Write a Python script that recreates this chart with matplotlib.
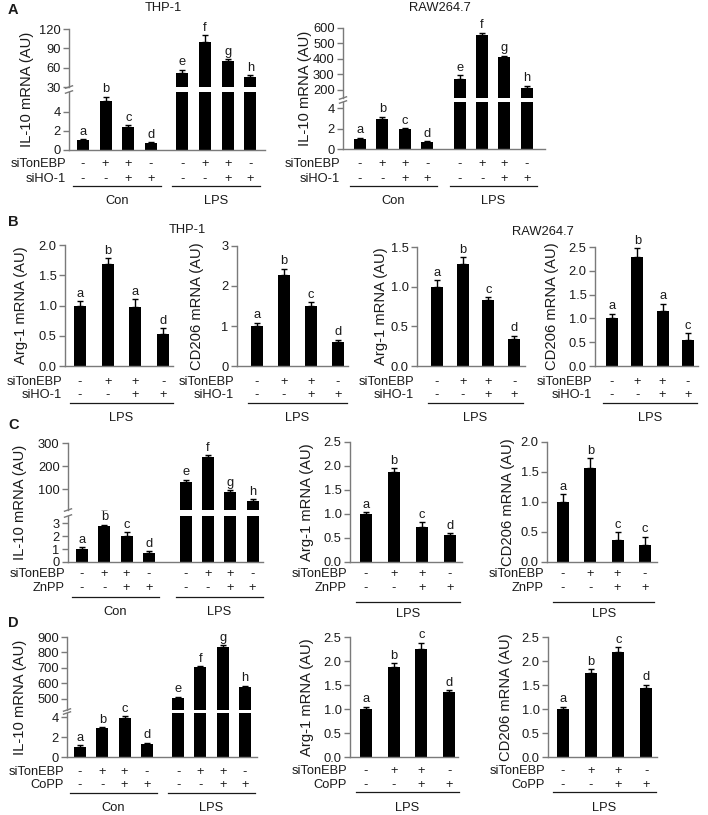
import numpy as np
import matplotlib.pyplot as plt
import matplotlib.transforms as mtransforms
from matplotlib.ticker import FormatStrFormatter

plt.rcParams['font.family'] = ['Liberation Sans', 'DejaVu Sans']

# values
si_tonebp = ['-', '+', '+', '-']
inhib = ['-', '-', '+', '+']
groups = ['Con', 'LPS']
il10_letters = list('abcdefgh')

# A: IL-10, Con (4) then LPS (4)
a_thp_il10 = [1.0, 5.2, 2.4, 0.7, 52, 100, 70, 46]
a_thp_il10_err = [0.15, 0.4, 0.2, 0.15, 5, 10, 3, 2]
a_raw_il10 = [1.0, 2.95, 1.95, 0.7, 272, 555, 413, 213]
a_raw_il10_err = [0.1, 0.2, 0.1, 0.08, 22, 15, 8, 15]

# B: LPS only
b_thp_arg = [1.0, 1.68, 0.98, 0.53]
b_thp_arg_err = [0.07, 0.1, 0.12, 0.09]
b_thp_arg_let = ['a', 'b', 'a', 'd']
b_thp_cd206 = [1.0, 2.28, 1.5, 0.6]
b_thp_cd206_err = [0.08, 0.15, 0.1, 0.06]
b_thp_cd206_let = ['a', 'b', 'c', 'd']
b_raw_arg = [1.0, 1.29, 0.83, 0.34]
b_raw_arg_err = [0.08, 0.08, 0.04, 0.04]
b_raw_arg_let = ['a', 'b', 'c', 'd']
b_raw_cd206 = [1.0, 2.3, 1.15, 0.55]
b_raw_cd206_err = [0.1, 0.18, 0.16, 0.14]
b_raw_cd206_let = ['a', 'b', 'a', 'c']

# C: ZnPP
c_il10 = [1.0, 2.75, 2.0, 0.7, 130, 240, 87, 50]
c_il10_err = [0.15, 0.12, 0.28, 0.12, 10, 8, 8, 5]
c_arg = [1.0, 1.88, 0.73, 0.57]
c_arg_err = [0.04, 0.07, 0.1, 0.03]
c_arg_let = ['a', 'b', 'c', 'd']
c_cd206 = [1.0, 1.57, 0.37, 0.29]
c_cd206_err = [0.13, 0.16, 0.13, 0.13]
c_cd206_let = ['a', 'b', 'c', 'c']

# D: CoPP
d_il10 = [1.0, 2.9, 3.9, 1.35, 505, 707, 838, 575]
d_il10_err = [0.2, 0.1, 0.2, 0.1, 10, 5, 10, 10]
d_arg = [1.0, 1.87, 2.25, 1.35]
d_arg_err = [0.05, 0.08, 0.13, 0.04]
d_arg_let = ['a', 'b', 'c', 'd']
d_cd206 = [1.0, 1.75, 2.19, 1.43]
d_cd206_err = [0.05, 0.08, 0.1, 0.08]
d_cd206_let = ['a', 'b', 'c', 'd']

W, H = 708, 815
fig = plt.figure(figsize=(W / 100, H / 100), dpi=100)
GRAY = '#7a7a7a'
INK = '#1a1a1a'
FS = 9.3
FL = 10.6


def fy(y):
    return 1 - y / H


def add_ax(xl, yt, xr, yb):
    ax = fig.add_axes([xl / W, fy(yb), (xr - xl) / W, (yb - yt) / H])
    ax.patch.set_alpha(0)
    for s in ['top', 'right']:
        ax.spines[s].set_visible(False)
    for s in ['left', 'bottom']:
        ax.spines[s].set_color(GRAY)
        ax.spines[s].set_linewidth(1)
    ax.tick_params(axis='y', direction='out', length=4, width=1, color=GRAY,
                   labelsize=FS, labelcolor=INK, pad=2)
    ax.tick_params(axis='x', length=0, labelbottom=False)
    return ax


def bars(ax, xs, vals, errs, bw):
    ax.bar(xs, vals, width=bw, color='black', zorder=2)
    ax.errorbar(xs, vals, yerr=[np.zeros(len(vals)), errs], fmt='none',
                ecolor='black', elinewidth=1, capsize=2.5, capthick=1, zorder=3)


def letter(ax, x, top, s):
    ax.annotate(s, (x, top), xytext=(0, 1), textcoords='offset points',
                ha='center', va='bottom', fontsize=FS, color=INK)


def table(ax, xs, xl, names, rows, rows_y, line_y, labels, label_y, pad):
    tr = mtransforms.blended_transform_factory(ax.transData, fig.transFigure)
    for name, signs, y in zip(names, rows, rows_y):
        fig.text((xl - 3) / W, fy(y), name, ha='right', va='center', fontsize=FS, color=INK)
        for x, s in zip(xs, signs):
            ax.text(x, fy(y), s, transform=tr, ha='center', va='center', fontsize=FS, color=INK)
    for g, lab in enumerate(labels):
        gx = xs[4 * g:4 * g + 4]
        ax.plot([gx[0] - pad, gx[-1] + pad], [fy(line_y)] * 2, transform=tr,
                color=INK, lw=0.9, clip_on=False)
        ax.text((gx[0] + gx[-1]) / 2, fy(label_y), lab, transform=tr,
                ha='center', va='center', fontsize=FS, color=INK)


def simple_panel(box, first, sp, vals, errs, lets, ymax, step, fmt, ylabel, label_x,
                 row2, rows_y, line_y, label_y):
    xl, yt, xr, yb = box
    ax = add_ax(xl, yt, xr, yb)
    xs = np.arange(len(vals))
    bars(ax, xs, vals, errs, 12 / sp)
    ax.set_xlim((xl - first) / sp, (xr - first) / sp)
    ax.set_ylim(0, ymax)
    ax.set_yticks(np.arange(0, ymax + step / 2, step))
    ax.yaxis.set_major_formatter(FormatStrFormatter(fmt))
    for x, v, e, s in zip(xs, vals, errs, lets):
        letter(ax, x, v + e, s)
    fig.text(label_x / W, fy((yt + yb) / 2), ylabel, rotation=90, ha='center',
             va='center', fontsize=FL, color=INK)
    table(ax, xs, xl, ['siTonEBP', row2], [si_tonebp, inhib], rows_y, line_y,
          ['LPS'], label_y, 0.35)
    return ax


def broken_panel(xl, xr, first, sp, gap, up, lo, vals, errs, label_x,
                 row2, rows_y, line_y, label_y):
    xs = np.r_[np.arange(4), gap + np.arange(4)]
    ax_u = add_ax(xl, up[0], xr, up[1])
    ax_l = add_ax(xl, lo[0], xr, lo[1])
    ax_u.spines['bottom'].set_visible(False)
    for ax, (t, b, y0, y1, ticks) in ((ax_u, up), (ax_l, lo)):
        bars(ax, xs, vals, errs, 12 / sp)
        ax.set_xlim((xl - first) / sp, (xr - first) / sp)
        ax.set_ylim(y0, y1)
        ax.set_yticks(ticks)
    for x, v, e, s in zip(xs, vals, errs, il10_letters):
        letter(ax_l if v < lo[3] else ax_u, x, v + e, s)
    # axis break marks
    w = xr - xl
    for ax, y, h in ((ax_u, 0, up[1] - up[0]), (ax_l, 1, lo[1] - lo[0])):
        dx, dy = 3.5 / w, 1.2 / h
        ax.plot([-dx, dx], [y - dy, y + dy], transform=ax.transAxes,
                color=GRAY, lw=1, clip_on=False)
    fig.text(label_x / W, fy((up[0] + lo[1]) / 2), 'IL-10 mRNA (AU)', rotation=90,
             ha='center', va='center', fontsize=FL, color=INK)
    table(ax_l, xs, xl, ['siTonEBP', row2], [si_tonebp * 2, inhib * 2], rows_y,
          line_y, groups, label_y, 0.45)


# ---- A
broken_panel(69, 265, 83, 22.6, 4.4, (29, 87, 30, 120, [30, 60, 90, 120]),
             (92, 150, 0, 6.1, [0, 2, 4]), a_thp_il10, a_thp_il10_err, 27,
             'siHO-1', (164, 179), 186, 201)
broken_panel(343, 545, 360, 22.4, 4.45, (28, 98, 148, 600, [200, 300, 400, 500, 600]),
             (102, 149, 0, 4.6, [0, 2, 4]), a_raw_il10, a_raw_il10_err, 305,
             'siHO-1', (164, 179), 186, 201)
fig.text(8 / W, fy(10), 'A', fontsize=10.5, fontweight='bold', va='center', color=INK)
fig.text(163 / W, fy(8), 'THP-1', fontsize=FS, ha='center', va='center', color=INK)
fig.text(440 / W, fy(8), 'RAW264.7', fontsize=FS, ha='center', va='center', color=INK)

# ---- B
brow = (382, 395)
simple_panel((65, 245, 173, 366), 80, 27.7, b_thp_arg, b_thp_arg_err, b_thp_arg_let,
             2.0, 0.5, '%.1f', 'Arg-1 mRNA (AU)', 21, 'siHO-1', brow, 403, 418)
simple_panel((237, 246, 348, 366), 257, 27, b_thp_cd206, b_thp_cd206_err, b_thp_cd206_let,
             3, 1, '%d', 'CD206 mRNA (AU)', 197, 'siHO-1', brow, 403, 418)
simple_panel((417, 247, 525, 366), 437, 25.7, b_raw_arg, b_raw_arg_err, b_raw_arg_let,
             1.5, 0.5, '%.1f', 'Arg-1 mRNA (AU)', 381, 'siHO-1', brow, 403, 418)
simple_panel((595, 247, 698, 366), 612, 25.3, b_raw_cd206, b_raw_cd206_err, b_raw_cd206_let,
             2.5, 0.5, '%.1f', 'CD206 mRNA (AU)', 552, 'siHO-1', brow, 403, 418)
fig.text(8 / W, fy(222), 'B', fontsize=10.5, fontweight='bold', va='center', color=INK)
fig.text(187 / W, fy(230), 'THP-1', fontsize=FS, ha='center', va='center', color=INK)
fig.text(543 / W, fy(232), 'RAW264.7', fontsize=FS, ha='center', va='center', color=INK)

# ---- C
broken_panel(68, 263, 82, 22.3, 4.65, (443, 510, 9, 300, [100, 200, 300]),
             (516, 562, 0, 3.54, [0, 1, 2, 3]), c_il10, c_il10_err, 20,
             'ZnPP', (574, 588), 597, 612)
simple_panel((350, 442, 462, 562), 366, 28, c_arg, c_arg_err, c_arg_let,
             2.5, 0.5, '%.1f', 'Arg-1 mRNA (AU)', 307, 'ZnPP', (574, 588), 602, 614)
simple_panel((547, 442, 657, 562), 563, 27.3, c_cd206, c_cd206_err, c_cd206_let,
             2.0, 0.5, '%.1f', 'CD206 mRNA (AU)', 508, 'ZnPP', (574, 588), 602, 614)
fig.text(8 / W, fy(425), 'C', fontsize=10.5, fontweight='bold', va='center', color=INK)

# ---- D
broken_panel(67, 257, 80, 22.3, 4.4, (637, 710, 429, 900, [500, 600, 700, 800, 900]),
             (713, 757, 0, 4.4, [0, 2, 4]), d_il10, d_il10_err, 20,
             'CoPP', (772, 785), 793, 808)
simple_panel((350, 637, 458, 757), 366, 27.7, d_arg, d_arg_err, d_arg_let,
             2.5, 0.5, '%.1f', 'Arg-1 mRNA (AU)', 307, 'CoPP', (771, 785), 792, 808)
simple_panel((548, 637, 657, 757), 563, 27.7, d_cd206, d_cd206_err, d_cd206_let,
             2.5, 0.5, '%.1f', 'CD206 mRNA (AU)', 506, 'CoPP', (771, 785), 792, 808)
fig.text(8 / W, fy(623), 'D', fontsize=10.5, fontweight='bold', va='center', color=INK)

fig.savefig('out.png', dpi=100)
